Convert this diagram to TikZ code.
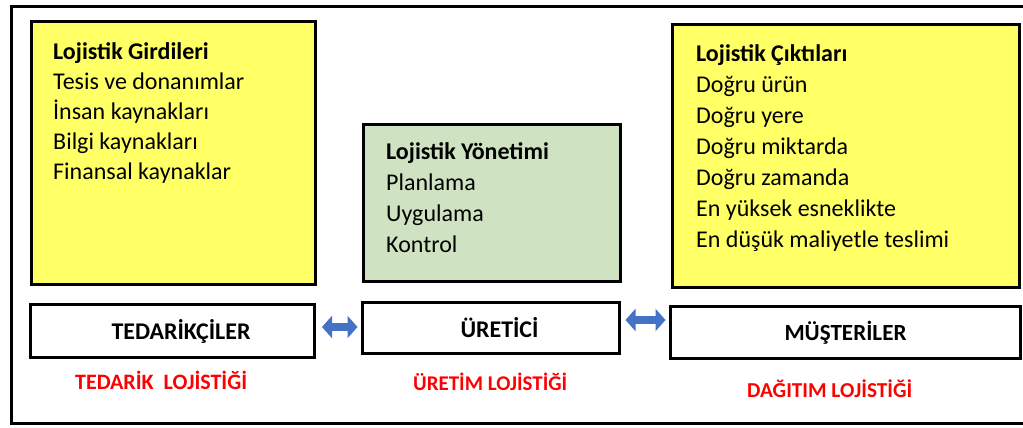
\documentclass[tikz,border=0pt]{standalone}
\usepackage{fontspec}
\setmainfont{Carlito}
\usetikzlibrary{arrows.meta}
\definecolor{boxyellow}{RGB}{255,255,102}
\definecolor{boxgreen}{RGB}{207,227,194}
\definecolor{arrowblue}{RGB}{68,114,196}
\definecolor{labelred}{RGB}{255,0,0}
\tikzset{
  listtext/.style={anchor=base west, align=left, inner sep=0pt, font=\fontsize{24}{30}\selectfont},
  rowbox/.style={draw=black, line width=3pt, fill=white, inner sep=0pt, font=\bfseries\fontsize{24}{26}\selectfont},
  redlabel/.style={text=labelred, font=\bfseries\fontsize{23}{25}\selectfont, inner sep=0pt, anchor=base west},
  blockarrow/.style={draw=arrowblue, line width=8pt, {Triangle[length=10pt 0 0, width=22pt 0 0]}-{Triangle[length=10pt 0 0, width=22pt 0 0]}}
}
\newcommand{\fitw}[2]{\resizebox{#1}{!}{#2}}
\begin{document}
\begin{tikzpicture}[x=1pt,y=-1pt]
\useasboundingbox (0,0) rectangle (1023,428);
\clip (0,0) rectangle (1023,428);
% outer frame
\draw[line width=3pt] (11,6.5) rectangle (1040,423);
% top boxes
\draw[line width=3pt, fill=boxyellow] (31,22) rectangle (315,284);
\draw[line width=3pt, fill=boxgreen] (363,124) rectangle (620,281);
\draw[line width=3pt, fill=boxyellow] (672,25) rectangle (1019,287);
\node[listtext] (girdi) at (53,179) {\textbf{Lojistik Girdileri}\\Tesis ve donanımlar\\İnsan kaynakları\\Bilgi kaynakları\\Finansal kaynaklar};
\node[listtext, font=\fontsize{24}{31}\selectfont] (yonetim) at (386,252) {\textbf{Lojistik Yönetimi}\\Planlama\\Uygulama\\Kontrol};
\node[listtext, font=\fontsize{24}{31}\selectfont] (cikti) at (696,247) {\textbf{Lojistik Çıktıları}\\Doğru ürün\\Doğru yere\\Doğru miktarda\\Doğru zamanda\\En yüksek esneklikte\\En düşük maliyetle teslimi};
% bottom row
\node[rowbox, minimum width=284pt, minimum height=53pt] (ted) at (172.5,330.5) {};
\node[rowbox, minimum width=257pt, minimum height=51pt] (ure) at (490.5,327.5) {};
\node[rowbox, minimum width=350pt, minimum height=52pt] (mus) at (845,332) {};
\node[rowbox, draw=none, fill=none, anchor=base west] (tedt) at (110,339) {\fitw{139pt}{TEDARİKÇİLER}};
\node[rowbox, draw=none, fill=none, anchor=base west] (uret) at (459,337) {\fitw{78pt}{ÜRETİCİ}};
\node[rowbox, draw=none, fill=none, anchor=base west] (must) at (783,340) {\fitw{122pt}{MÜŞTERİLER}};
\draw[blockarrow] ([xshift=6pt,yshift=3.5pt]ted.east) -- ([xshift=-3pt,yshift=3.5pt]ted.east -| ure.west);
\draw[blockarrow] ([xshift=5pt,yshift=7.5pt]ure.east) -- ([xshift=-3pt,yshift=7.5pt]ure.east -| mus.west);
% red labels
\node[redlabel] (l1) at (75,389) {\fitw{172pt}{TEDARİK\ \ LOJİSTİĞİ}};
\node[redlabel] (l2) at (413,390) {\fitw{154pt}{ÜRETİM LOJİSTİĞİ}};
\node[redlabel] (l3) at (747,397) {\fitw{165pt}{DAĞITIM LOJİSTİĞİ}};
\end{tikzpicture}
\end{document}
